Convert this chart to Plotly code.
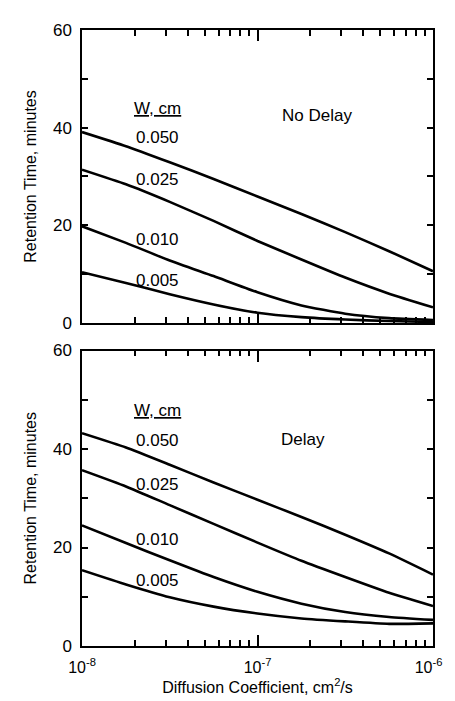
import plotly.graph_objects as go

D = [1.0e-8, 1.78e-8, 3.16e-8, 5.62e-8, 1.0e-7, 1.78e-7, 3.16e-7, 5.62e-7, 1.0e-6]
widths = ["0.050", "0.025", "0.010", "0.005"]

nodelay_050 = [39.1, 36.2, 32.9, 29.5, 25.9, 22.3, 18.6, 14.7, 10.6]
nodelay_025 = [31.4, 28.4, 24.8, 20.9, 16.8, 13.0, 9.3, 6.0, 3.2]
nodelay_010 = [19.8, 16.4, 12.8, 9.6, 6.3, 3.6, 1.9, 1.0, 0.6]
nodelay_005 = [10.4, 8.2, 5.9, 3.8, 2.1, 1.2, 0.7, 0.4, 0.2]

delay_050 = [43.2, 40.3, 36.8, 33.2, 29.7, 26.2, 22.6, 18.8, 14.5]
delay_025 = [35.7, 32.4, 28.6, 24.8, 21.0, 17.3, 14.0, 10.8, 8.1]
delay_010 = [24.5, 20.9, 17.4, 14.0, 11.0, 8.6, 6.9, 5.9, 5.3]
delay_005 = [15.4, 12.5, 9.9, 8.0, 6.6, 5.6, 5.0, 4.5, 4.6]

x_decades = [1e-8, 1e-7, 1e-6]
x_all = [k * 10.0 ** e for e in (-8, -7) for k in range(1, 10)] + [1e-6]
x_all_text = ([("10<sup>%d</sup>" % e) if k == 1 else "" for e in (-8, -7) for k in range(1, 10)]
              + ["10<sup>-6</sup>\u00a0\u00a0"])
y_all = [0, 10, 20, 30, 40, 50, 60]
y_all_text = ["0", "", "20", "", "40", "", "60"]

FONT = "Liberation Sans, Arial, Helvetica, sans-serif"

fig = go.Figure()
line = dict(color="black", width=2.6, shape="spline", smoothing=0.5)
for ys in (nodelay_050, nodelay_025, nodelay_010, nodelay_005):
    fig.add_trace(go.Scatter(x=D, y=ys, mode="lines", line=line, xaxis="x", yaxis="y", showlegend=False))
for ys in (delay_050, delay_025, delay_010, delay_005):
    fig.add_trace(go.Scatter(x=D, y=ys, mode="lines", line=line, xaxis="x2", yaxis="y2", showlegend=False))

def xax(show_labels, anchor, title=None):
    d = dict(type="log", range=[-8, -6], anchor=anchor,
             showline=True, linecolor="black", linewidth=1.5, mirror="ticks",
             ticks="inside", ticklen=6, tickwidth=1.5, tickcolor="black",
             tickmode="array", tickvals=x_all, ticktext=x_all_text,
             showticklabels=show_labels, ticklabeloverflow="allow",
             showgrid=False, zeroline=False,
             tickfont=dict(family=FONT, size=16, color="black"))
    if show_labels:
        d["ticklabelstandoff"] = 6
    if title:
        d["title"] = dict(text=title, font=dict(family=FONT, size=16, color="black"), standoff=6)
    return d

def xmajor(overlay, anchor):
    return dict(type="log", range=[-8, -6], anchor=anchor, overlaying=overlay,
                showline=False, mirror="ticks", side="bottom",
                ticks="inside", ticklen=11, tickwidth=1.5, tickcolor="black",
                tickmode="array", tickvals=x_decades, showticklabels=False,
                showgrid=False, zeroline=False)

def yax(domain, anchor):
    return dict(range=[0, 60], domain=domain, anchor=anchor,
                showline=True, linecolor="black", linewidth=1.5, mirror="ticks",
                ticks="inside", ticklen=6, tickwidth=1.5, tickcolor="black",
                tickmode="array", tickvals=y_all, ticktext=y_all_text,
                ticklabelstandoff=5,
                showgrid=False, zeroline=False,
                tickfont=dict(family=FONT, size=17, color="black"),
                title=dict(text="Retention Time, minutes", font=dict(family=FONT, size=16, color="black"), standoff=12))

fig.update_layout(
    width=455, height=701,
    margin=dict(l=74, r=23, t=22, b=63),
    paper_bgcolor="white", plot_bgcolor="white",
    xaxis=xax(False, "y"),
    yaxis=yax([0.5244, 1.0], "x"),
    xaxis2=xax(True, "y2", "Diffusion Coefficient, cm<sup>2</sup>/s"),
    yaxis2=yax([0.0, 0.4797], "x2"),
    xaxis3=xmajor("x", "y"),
    xaxis4=xmajor("x2", "y2"),
)
fig.add_trace(go.Scatter(x=[1e-8], y=[None], xaxis="x3", yaxis="y", showlegend=False, hoverinfo="skip"))
fig.add_trace(go.Scatter(x=[1e-8], y=[None], xaxis="x4", yaxis="y2", showlegend=False, hoverinfo="skip"))

afont = dict(family=FONT, size=17, color="black")
top_labels = [("<u>W, cm</u>", 44.0), ("0.050", 37.9), ("0.025", 29.3), ("0.010", 17.0), ("0.005", 8.6)]
bot_labels = [("<u>W, cm</u>", 47.8), ("0.050", 41.7), ("0.025", 32.7), ("0.010", 21.6), ("0.005", 13.4)]
for txt, yv in top_labels:
    fig.add_annotation(x=-7.57, y=yv, xref="x", yref="y", text=txt, showarrow=False, font=afont)
for txt, yv in bot_labels:
    fig.add_annotation(x=-7.57, y=yv, xref="x2", yref="y2", text=txt, showarrow=False, font=afont)
fig.add_annotation(x=-6.66, y=42.4, xref="x", yref="y", text="No Delay", showarrow=False, font=afont)
fig.add_annotation(x=-6.74, y=41.9, xref="x2", yref="y2", text="Delay", showarrow=False, font=afont)

fig.write_html("out.html")
